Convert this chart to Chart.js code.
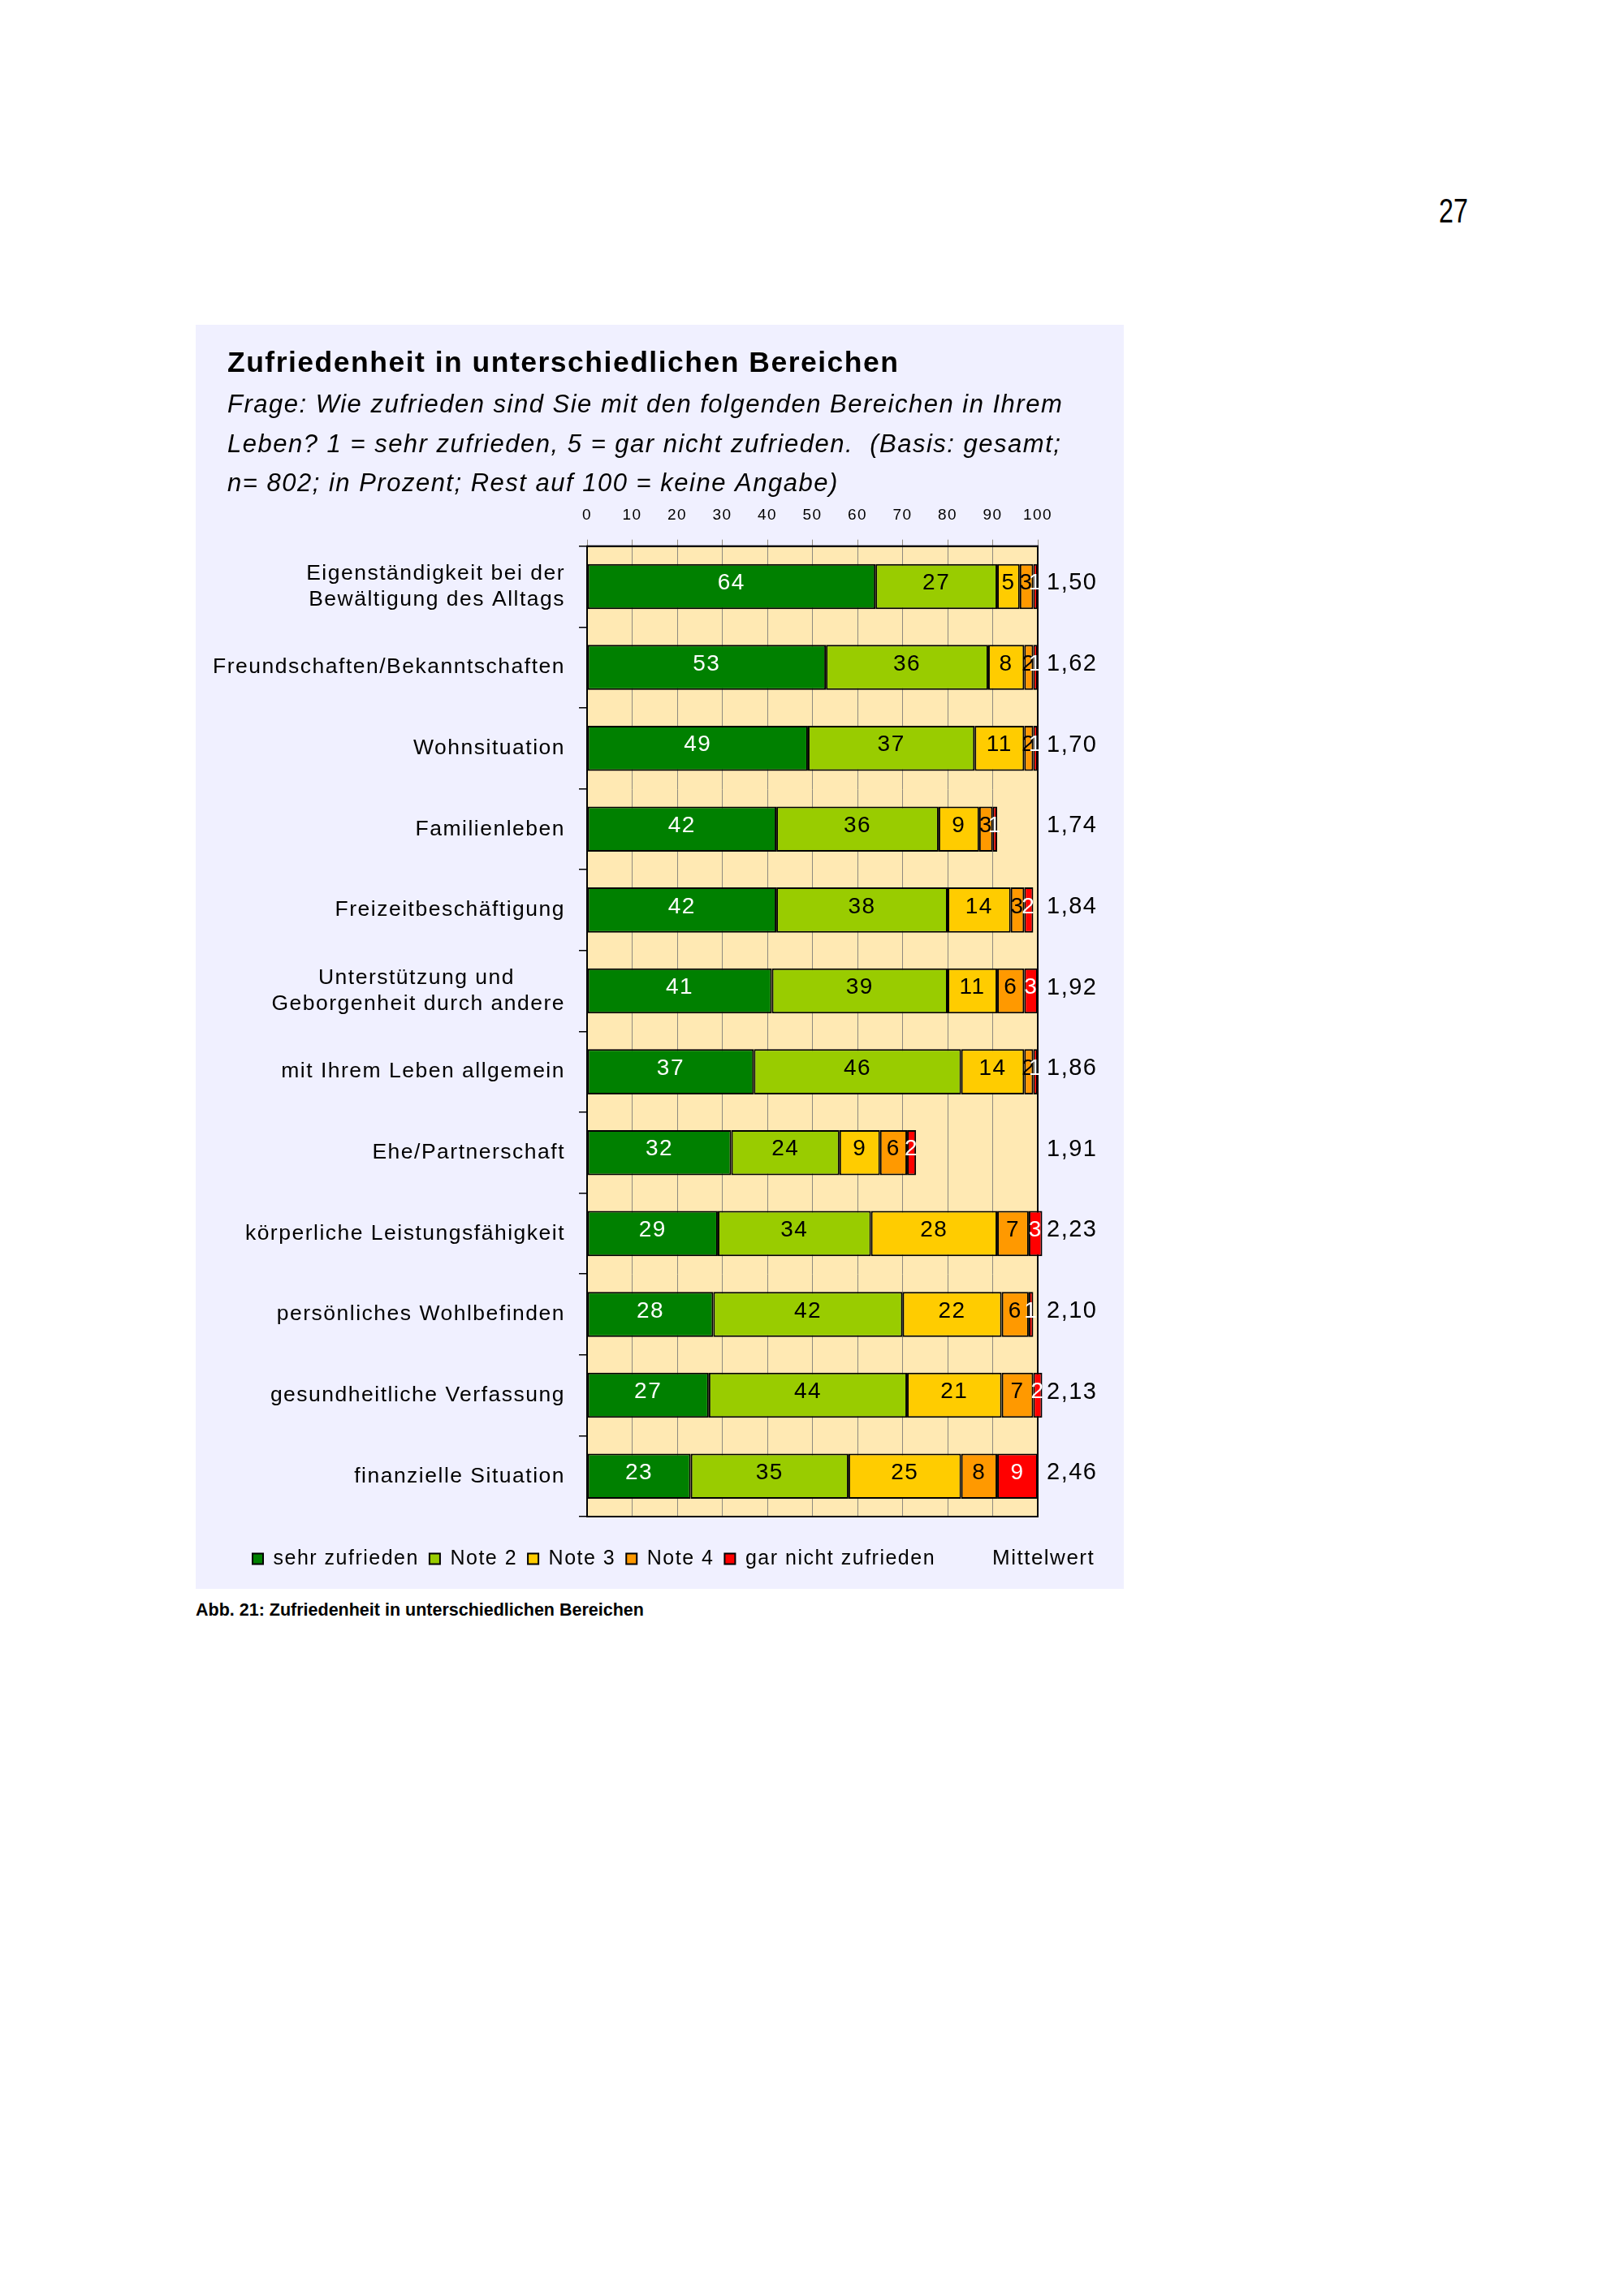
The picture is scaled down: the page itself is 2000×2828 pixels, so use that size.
<!DOCTYPE html>
<html lang="de">
<head>
<meta charset="utf-8">
<title>Zufriedenheit in unterschiedlichen Bereichen</title>
<script src="https://cdn.jsdelivr.net/npm/chart.js@4.4.1/dist/chart.umd.min.js"></script>
<style>
  html, body { margin: 0; padding: 0; background: #fff; }
  body { width: 2000px; height: 2828px; position: relative; font-family: "Liberation Sans", Arial, sans-serif; color: #000; }
  #pagenr { position: absolute; left: 1772px; top: 233px; font-size: 43px; line-height: 52px; transform: scaleX(0.75); transform-origin: left top; }
  #panel { position: absolute; left: 241px; top: 400px; width: 1143px; height: 1557px; background: #f0f0ff; }
  #panel canvas { position: absolute; left: 0; top: 0; }
  #caption { position: absolute; left: 241px; top: 1970px; font-size: 21.5px; font-weight: bold; line-height: 26px; }
</style>
</head>
<body>
<div id="pagenr">27</div>
<div id="panel"><canvas id="chart" width="1143" height="1557"></canvas></div>
<div id="caption">Abb. 21: Zufriedenheit in unterschiedlichen Bereichen</div>

<script>
// categories (two-line labels as arrays)
const categories = [
  ['Eigenständigkeit bei der', 'Bewältigung des Alltags'],
  'Freundschaften/Bekanntschaften',
  'Wohnsituation',
  'Familienleben',
  'Freizeitbeschäftigung',
  ['Unterstützung und', 'Geborgenheit durch andere'],
  'mit Ihrem Leben allgemein',
  'Ehe/Partnerschaft',
  'körperliche Leistungsfähigkeit',
  'persönliches Wohlbefinden',
  'gesundheitliche Verfassung',
  'finanzielle Situation'
];

const seriesNames = ['sehr zufrieden', 'Note 2', 'Note 3', 'Note 4', 'gar nicht zufrieden'];
const sehrZufrieden = [64, 53, 49, 42, 42, 41, 37, 32, 29, 28, 27, 23];
const note2 = [27, 36, 37, 36, 38, 39, 46, 24, 34, 42, 44, 35];
const note3 = [5, 8, 11, 9, 14, 11, 14, 9, 28, 22, 21, 25];
const note4 = [3, 2, 2, 3, 3, 6, 2, 6, 7, 6, 7, 8];
const garNichtZufrieden = [1, 1, 1, 1, 2, 3, 1, 2, 3, 1, 2, 9];
const mittelwert = ['1,50', '1,62', '1,70', '1,74', '1,84', '1,92', '1,86', '1,91', '2,23', '2,10', '2,13', '2,46'];
const xTickValues = [0, 10, 20, 30, 40, 50, 60, 70, 80, 90, 100];

const seriesColors = ['#008000', '#99cc00', '#ffcc00', '#ff9900', '#ff0000'];
const valueColors = ['#ffffff', '#000000', '#000000', '#000000', '#ffffff'];
const FONT = '"Liberation Sans", Arial, sans-serif';
const SPACING = '1.5px';
const Y_LABEL_SIZE = 26.5;

// right-aligned block, lines centred against each other (pad the short line)
function centerLines(lines) {
  const m = document.createElement('canvas').getContext('2d');
  m.font = Y_LABEL_SIZE + 'px ' + FONT;
  m.letterSpacing = SPACING;
  const w = lines.map(l => m.measureText(l).width);
  const max = Math.max(...w);
  const sp = m.measureText('\u00a0').width;
  return lines.map((l, i) => l + '\u00a0'.repeat(Math.round((max - w[i]) / 2 / sp)));
}

Chart.defaults.font.family = FONT;
Chart.defaults.color = '#000';

const spacingPlugin = {
  id: 'spacing',
  beforeLayout(chart) { chart.ctx.letterSpacing = SPACING; },
  beforeDraw(chart) {
    const {ctx, chartArea: a} = chart;
    ctx.letterSpacing = SPACING;
    ctx.save();
    ctx.fillStyle = '#ffe9b3';
    ctx.fillRect(a.left, a.top, a.right - a.left, a.bottom - a.top);
    ctx.restore();
  },
  beforeDatasetsDraw(chart) {
    const {ctx, chartArea: a} = chart;
    ctx.save();
    ctx.strokeStyle = '#000';
    ctx.lineWidth = 2;
    ctx.strokeRect(a.left, a.top, a.right - a.left, a.bottom - a.top);
    ctx.restore();
  }
};

const legendPlacement = {
  id: 'legendPlacement',
  afterLayout(chart) {
    const lg = chart.legend;
    const dy = chart.chartArea.bottom + 26.5 - lg.top;
    lg.top += dy; lg.bottom += dy;
    lg.left += 18; lg.right += 18;
    // long category labels reach further left than the title margin
    chart.scales.y.left = 0;
    // title and question text may run over the Mittelwert column
    chart.boxes.forEach(b => {
      if (b.position === 'top' && b.options && b.options.text) {
        b.right = chart.width - 10;
        b.width = b.right - b.left;
      }
    });
  }
};

const valueLabels = {
  id: 'valueLabels',
  afterDatasetsDraw(chart) {
    const ctx = chart.ctx;
    const a = chart.chartArea;
    const yScale = chart.scales.y;
    ctx.save();
    ctx.textBaseline = 'middle';
    ctx.textAlign = 'center';
    ctx.font = '28px ' + FONT;
    chart.data.datasets.forEach((ds, i) => {
      ctx.fillStyle = valueColors[i];
      chart.getDatasetMeta(i).data.forEach((bar, j) => {
        ctx.fillText(String(ds.data[j]), (bar.x + bar.base) / 2, bar.y - 4);
      });
    });
    // Mittelwert column
    ctx.fillStyle = '#000';
    ctx.textAlign = 'left';
    ctx.font = '29px ' + FONT;
    mittelwert.forEach((m, j) => {
      ctx.fillText(m, a.right + 11, yScale.getPixelForValue(j) - 4);
    });
    const hb = chart.legend.legendHitBoxes[0];
    ctx.font = '26px ' + FONT;
    ctx.fillText('Mittelwert', a.right - 56, hb.top + hb.height / 2);
    ctx.restore();
  }
};

const seriesData = [sehrZufrieden, note2, note3, note4, garNichtZufrieden];

new Chart(document.getElementById('chart'), {
  type: 'bar',
  data: {
    labels: categories,
    datasets: seriesData.map((d, i) => ({
      label: seriesNames[i],
      data: d,
      backgroundColor: seriesColors[i],
      borderColor: '#000',
      borderWidth: 2,
      borderSkipped: false,
      barPercentage: 0.9,
      categoryPercentage: 0.62,
      clip: false
    }))
  },
  options: {
    indexAxis: 'y',
    responsive: false,
    animation: false,
    layout: { padding: { left: 39, right: 106, top: 10, bottom: 41 } },
    scales: {
      x: {
        position: 'top',
        stacked: true,
        min: 0,
        max: 100,
        afterBuildTicks(scale) { scale.ticks = xTickValues.map(v => ({ value: v })); },
        ticks: { font: { size: 19, lineHeight: 1.2 }, padding: 18, color: '#000' },
        grid: { color: '#8f8a80', lineWidth: 1, drawTicks: true, tickLength: 8 },
        border: { display: true, color: '#000', width: 2 }
      },
      y: {
        stacked: true,
        afterFit(scale) { scale.width = 443; },
        ticks: {
          font: { size: Y_LABEL_SIZE, lineHeight: 1.2 },
          padding: 17,
          color: '#000',
          callback(value) {
            const l = this.getLabelForValue(value);
            return Array.isArray(l) ? centerLines(l) : l;
          }
        },
        grid: { drawOnChartArea: false, drawTicks: true, tickLength: 10, color: '#000', lineWidth: 1.5 },
        border: { display: true, color: '#000', width: 2 }
      }
    },
    plugins: {
      title: {
        display: true,
        text: 'Zufriedenheit in unterschiedlichen Bereichen',
        align: 'start',
        color: '#000',
        font: { size: 35.5, weight: 'bold', lineHeight: 1.2 },
        padding: { top: 16.7, bottom: 5 }
      },
      subtitle: {
        display: true,
        text: [
          'Frage: Wie zufrieden sind Sie mit den folgenden Bereichen in Ihrem',
          'Leben? 1 = sehr zufrieden, 5 = gar nicht zufrieden.  (Basis: gesamt;',
          'n= 802; in Prozent; Rest auf 100 = keine Angabe)'
        ],
        align: 'start',
        color: '#000',
        font: { size: 31, style: 'italic', lineHeight: 1.565 },
        padding: { top: 1, bottom: -15 }
      },
      legend: {
        position: 'bottom',
        align: 'start',
        labels: { boxWidth: 13, boxHeight: 13, padding: 13, color: '#000', font: { size: 25 } }
      },
      tooltip: { enabled: false }
    }
  },
  plugins: [spacingPlugin, legendPlacement, valueLabels]
});
</script>
</body>
</html>
